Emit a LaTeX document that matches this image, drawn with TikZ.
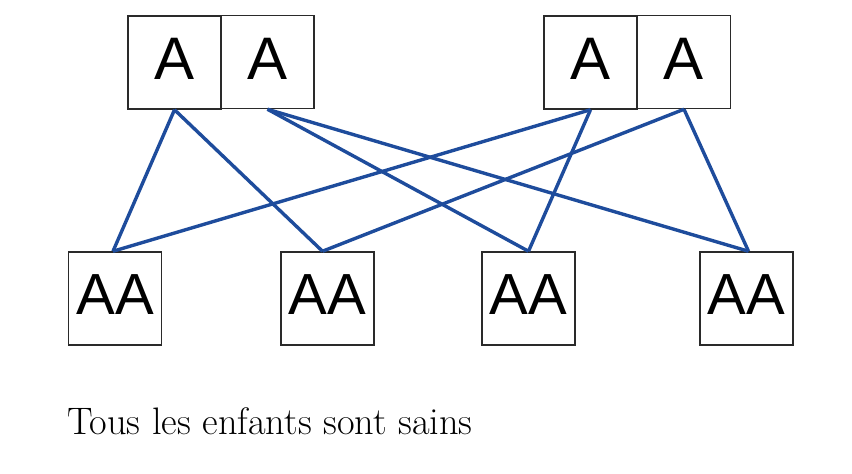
\documentclass[tikz,border=0pt]{standalone}
\usepackage{fontspec}
\setmainfont{Latin Modern Roman}
\newfontfamily\boxfont{Liberation Sans}
\definecolor{linkblue}{HTML}{1E4C9C}
\definecolor{boxline}{HTML}{2A2A2A}
\begin{document}
\begin{tikzpicture}[x=1pt,y=-1pt,
  parent/.style={draw=boxline,line width=1.5pt,minimum width=93pt,minimum height=93pt,inner sep=0pt,text depth=7pt,font=\boxfont\fontsize{60}{60}\selectfont},
  child/.style={draw=boxline,line width=1.5pt,minimum width=93pt,minimum height=93pt,inner sep=0pt,text depth=8pt,font=\boxfont\fontsize{58}{58}\selectfont},
  link/.style={draw=linkblue,line width=3.4pt}]
\useasboundingbox (0,0) rectangle (852,474);
% parents
\node[parent] (p1) at (174.5,62.5) {A};
\node[parent] (p2) at (267.5,62) {A};
\node[parent] (p3) at (590.5,62.5) {A};
\node[parent] (p4) at (684,62) {A};
% children
\node[child] (c1) at (115,298.5) {AA};
\node[child] (c2) at (327.5,298.5) {AA};
\node[child] (c3) at (528.5,298.5) {AA};
\node[child] (c4) at (746.5,298.5) {AA};
% crossings
\draw[link] (p1.south) -- ([xshift=-2pt]c1.north);
\draw[link] (p1.south) -- ([xshift=-5pt]c2.north);
\draw[link] (p2.south) -- (c3.north);
\draw[link] (p2.south) -- ([xshift=2pt]c4.north);
\draw[link] (p3.south) -- ([xshift=-2pt]c1.north);
\draw[link] (p3.south) -- (c3.north);
\draw[link] (p4.south) -- ([xshift=-5pt]c2.north);
\draw[link] (p4.south) -- ([xshift=2pt]c4.north);
% caption
\node[anchor=base west,inner sep=0pt,font=\fontsize{38.3}{38}\selectfont] (cap) at (67,434) {Tous les enfants sont sains};
\end{tikzpicture}
\end{document}
